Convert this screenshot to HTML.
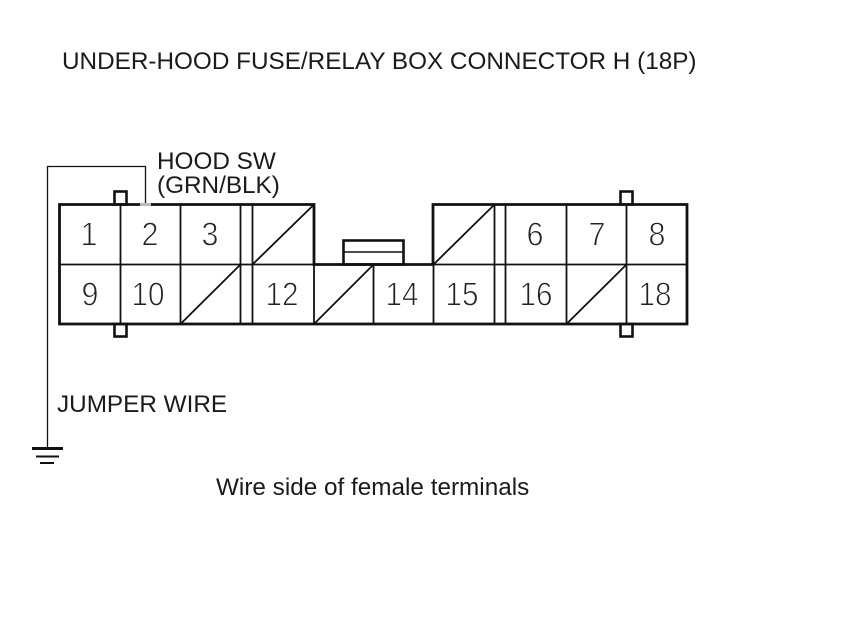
<!DOCTYPE html>
<html>
<head>
<meta charset="utf-8">
<style>
html,body{margin:0;padding:0;background:#fff;}
svg{display:block;}
text{font-family:"Liberation Sans",sans-serif;fill:#1a1a1a;}
.n{font-size:33px;text-anchor:middle;font-weight:normal;fill:#222;stroke:#fff;stroke-width:.9px;paint-order:fill stroke;}
.l{font-size:24.3px;}
</style>
</head>
<body>
<svg width="860" height="629" viewBox="0 0 860 629" xmlns="http://www.w3.org/2000/svg">
<rect width="860" height="629" fill="#fff"/>
<text class="l" x="62" y="69">UNDER-HOOD FUSE/RELAY BOX CONNECTOR H (18P)</text>
<text class="l" x="157" y="169">HOOD SW</text>
<text class="l" x="157" y="193">(GRN/BLK)</text>
<text class="l" x="57" y="412">JUMPER WIRE</text>
<text class="l" x="216" y="495">Wire side of female terminals</text>

<g fill="none" stroke="#111">
<!-- jumper wire -->
<path d="M47.500 447V166.500H145.500V204" stroke-width="1.300"/>
<!-- ground -->
<path d="M32 448.500H63" stroke-width="3"/>
<path d="M36 456.500H59" stroke-width="2"/>
<path d="M40 463H54" stroke-width="2"/>
<!-- tabs -->
<g stroke-width="2.600">
<rect x="114.500" y="191.500" width="12" height="13"/>
<rect x="114.500" y="324" width="12" height="12.500"/>
<rect x="620.500" y="191.500" width="12" height="13"/>
<rect x="620.500" y="324" width="12" height="12.500"/>
<rect x="343.500" y="240.500" width="60" height="24"/>
</g>
<path d="M343.500 252H403.500" stroke-width="1.500"/>
<!-- outline -->
<path d="M59.500 204.500H314V264.500H433V204.500H687V324H59.500Z" stroke-width="2.800"/>
<!-- mid line -->
<path d="M59.500 264.500H687" stroke-width="1.800"/>
<!-- verticals -->
<path d="M120.500 204.500V324M180.500 204.500V324M240.500 204.500V324M252.500 204.500V324M314 264.500V324M373.500 264.500V324M433.500 264.500V324M494.500 204.500V324M505.500 204.500V324M566.500 204.500V324M626.500 204.500V324" stroke-width="1.800"/>
<!-- diagonals -->
<path d="M252.500 264.500L314 204.500M180.500 324L240.500 264.500M314 324L373.500 264.500M433.500 264.500L494.500 204.500M566.500 324L626.500 264.500" stroke-width="1.800"/>
</g>
<!-- wire entry gap -->
<rect x="140" y="203" width="11" height="3" fill="#bbb"/>

<text class="n" x="89" y="245.500" textLength="17" lengthAdjust="spacingAndGlyphs">1</text>
<text class="n" x="150" y="245.500" textLength="17" lengthAdjust="spacingAndGlyphs">2</text>
<text class="n" x="210" y="245.500" textLength="17" lengthAdjust="spacingAndGlyphs">3</text>
<text class="n" x="535" y="245.500" textLength="17" lengthAdjust="spacingAndGlyphs">6</text>
<text class="n" x="597" y="245.500" textLength="17" lengthAdjust="spacingAndGlyphs">7</text>
<text class="n" x="657" y="245.500" textLength="17" lengthAdjust="spacingAndGlyphs">8</text>
<text class="n" x="90" y="305.500" textLength="17" lengthAdjust="spacingAndGlyphs">9</text>
<text class="n" x="148" y="305.500" textLength="33" lengthAdjust="spacingAndGlyphs">10</text>
<text class="n" x="282" y="305.500" textLength="33" lengthAdjust="spacingAndGlyphs">12</text>
<text class="n" x="402" y="305.500" textLength="33" lengthAdjust="spacingAndGlyphs">14</text>
<text class="n" x="462" y="305.500" textLength="33" lengthAdjust="spacingAndGlyphs">15</text>
<text class="n" x="536" y="305.500" textLength="33" lengthAdjust="spacingAndGlyphs">16</text>
<text class="n" x="655" y="305.500" textLength="33" lengthAdjust="spacingAndGlyphs">18</text>
</svg>
</body>
</html>
